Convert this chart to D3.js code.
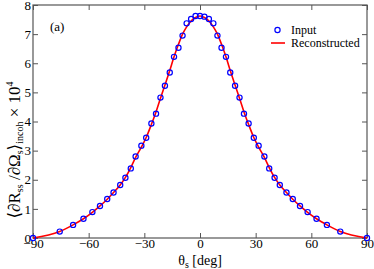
<!DOCTYPE html>
<html>
<head>
<meta charset="utf-8">
<script src="https://cdn.jsdelivr.net/npm/d3@7"></script>
<style>
  body { margin: 0; background: #fff; }
  svg text { font-family: "Liberation Serif", "DejaVu Serif", serif; fill: #000; }
</style>
</head>
<body>
<div id="chart"></div>
<script>
// angles (deg) of the input samples, symmetric about 0
var angles = [-90, -75.6, -68.4, -62.8, -58, -53.9, -50, -46.6, -43, -40.2, -37.3, -34.7, -31.6, -29, -26.2, -23.7, -21.3, -18.9, -16.3, -14, -11.6, -9.4, -7.2, -4.8, -2.4,
  0, 2.4, 4.8, 7.2, 9.4, 11.6, 14, 16.3, 18.9, 21.3, 23.7, 26.2, 29, 31.6, 34.7, 37.3, 40.2, 43, 46.6, 50, 53.9, 58, 62.8, 68.4, 75.6, 90];
var inputVals = [0, 0.22, 0.45, 0.66, 0.89, 1.10, 1.34, 1.56, 1.82, 2.07, 2.39, 2.80, 3.17, 3.44, 3.93, 4.27, 4.82, 5.23, 5.68, 6.22, 6.53, 6.95, 7.37, 7.52, 7.62,
  7.62, 7.60, 7.52, 7.37, 6.95, 6.53, 6.22, 5.68, 5.23, 4.82, 4.27, 3.93, 3.44, 3.17, 2.80, 2.39, 2.07, 1.82, 1.56, 1.34, 1.10, 0.89, 0.66, 0.45, 0.22, 0];
var reconVals = [0, 0.22, 0.45, 0.66, 0.88, 1.10, 1.33, 1.56, 1.82, 2.08, 2.42, 2.77, 3.12, 3.45, 3.90, 4.33, 4.80, 5.25, 5.75, 6.22, 6.65, 7.00, 7.25, 7.45, 7.57,
  7.62, 7.57, 7.45, 7.25, 7.00, 6.65, 6.22, 5.75, 5.25, 4.80, 4.33, 3.90, 3.45, 3.12, 2.77, 2.42, 2.08, 1.82, 1.56, 1.33, 1.10, 0.88, 0.66, 0.45, 0.22, 0];
var xTicks = [-90, -60, -30, 0, 30, 60, 90];
var yTicks = [0, 1, 2, 3, 4, 5, 6, 7, 8];

var width = 374, height = 269;
var margin = {left: 33, right: 7, top: 5, bottom: 31};

var svg = d3.select("#chart").append("svg")
  .attr("width", width)
  .attr("height", height);

var x = d3.scaleLinear().domain([-90, 90]).range([margin.left, width - margin.right]);
var y = d3.scaleLinear().domain([0, 8]).range([height - margin.bottom, margin.top]);

var frameColor = "#555";

// ticks on all four sides, pointing inward
function tickSide(axisFn, scale, pos, major, minor) {
  var g = svg.append("g").attr("transform", pos);
  g.call(axisFn(scale).tickValues(minor).tickSize(3).tickFormat(""));
  g.call(axisFn(scale).tickValues(major).tickSize(5).tickFormat(""));
  g.selectAll(".domain").remove();
  g.selectAll("line").attr("stroke", frameColor);
  return g;
}
var xMinor = d3.range(-75, 90, 30);
var yMinor = d3.range(0.5, 8, 1);
tickSide(d3.axisTop, x, "translate(0," + y(0) + ")", xTicks, xMinor);
tickSide(d3.axisBottom, x, "translate(0," + y(8) + ")", xTicks, xMinor);
tickSide(d3.axisRight, y, "translate(" + x(-90) + ",0)", yTicks, yMinor);
tickSide(d3.axisLeft, y, "translate(" + x(90) + ",0)", yTicks, yMinor);

svg.append("rect")
  .attr("x", x(-90)).attr("y", y(8))
  .attr("width", x(90) - x(-90)).attr("height", y(0) - y(8))
  .attr("fill", "none").attr("stroke", frameColor).attr("stroke-width", 1.2);

// tick labels
var xAxis = svg.append("g").attr("transform", "translate(0," + y(0) + ")")
  .call(d3.axisBottom(x).tickValues(xTicks).tickSize(0).tickPadding(1).tickFormat(d3.format("d")));
xAxis.select(".domain").remove();
xAxis.attr("font-family", "Liberation Serif").attr("font-size", 13);
xAxis.selectAll("text").attr("fill", "#000");

var yAxis = svg.append("g").attr("transform", "translate(" + x(-90) + ",0)")
  .call(d3.axisLeft(y).tickValues(yTicks).tickSize(0).tickPadding(2).tickFormat(d3.format("d")));
yAxis.select(".domain").remove();
yAxis.attr("font-family", "Liberation Serif").attr("font-size", 13);
yAxis.selectAll("text").attr("fill", "#000");

// data
var pts = angles.map(function (a, i) { return {a: a, v: inputVals[i], r: reconVals[i]}; });

var line = d3.line()
  .x(function (d) { return x(d.a); })
  .y(function (d) { return y(d.r); })
  .curve(d3.curveMonotoneX);

svg.append("path").datum(pts)
  .attr("d", line)
  .attr("fill", "none")
  .attr("stroke", "#ff0000")
  .attr("stroke-width", 1.6);

svg.append("g").selectAll("circle")
  .data(pts)
  .enter().append("circle")
  .attr("cx", function (d) { return x(d.a); })
  .attr("cy", function (d) { return y(d.v); })
  .attr("r", 2.6)
  .attr("fill", "none")
  .attr("stroke", "#0000ff")
  .attr("stroke-width", 1.2);

// panel label
svg.append("text").attr("x", 50).attr("y", 31).style("font-size", "13px").text("(a)");

// legend
var lg = svg.append("g");
lg.append("circle").attr("cx", 277.5).attr("cy", 30).attr("r", 2.6)
  .attr("fill", "none").attr("stroke", "#0000ff").attr("stroke-width", 1.2);
lg.append("text").attr("x", 291).attr("y", 34).style("font-size", "12px").text("Input");
lg.append("line").attr("x1", 271).attr("x2", 285).attr("y1", 43).attr("y2", 43)
  .attr("stroke", "#ff0000").attr("stroke-width", 1.6);
lg.append("text").attr("x", 291).attr("y", 47).style("font-size", "12px").text("Reconstructed");

// x title
var xt = svg.append("text").attr("x", 200).attr("y", 265)
  .attr("text-anchor", "middle").style("font-size", "14px");
xt.append("tspan").text("θ");
xt.append("tspan").attr("dy", 3).style("font-size", "10px").text("s");
xt.append("tspan").attr("dy", -3).text(" [deg]");

// y title
var yt = svg.append("text")
  .attr("transform", "translate(20,150) rotate(-90)")
  .attr("text-anchor", "middle").style("font-size", "17px");
yt.append("tspan").text("⟨∂R");
yt.append("tspan").attr("dy", 3).style("font-size", "10px").text("ss");
yt.append("tspan").attr("dy", -3).text(" /∂Ω");
yt.append("tspan").attr("dy", 3).style("font-size", "10px").text("s");
yt.append("tspan").attr("dy", -3).text("⟩");
yt.append("tspan").attr("dy", 3).style("font-size", "10px").text("incoh");
yt.append("tspan").attr("dy", -3).text("  × 10");
yt.append("tspan").attr("dy", -7).style("font-size", "10px").text("4");
</script>
</body>
</html>
